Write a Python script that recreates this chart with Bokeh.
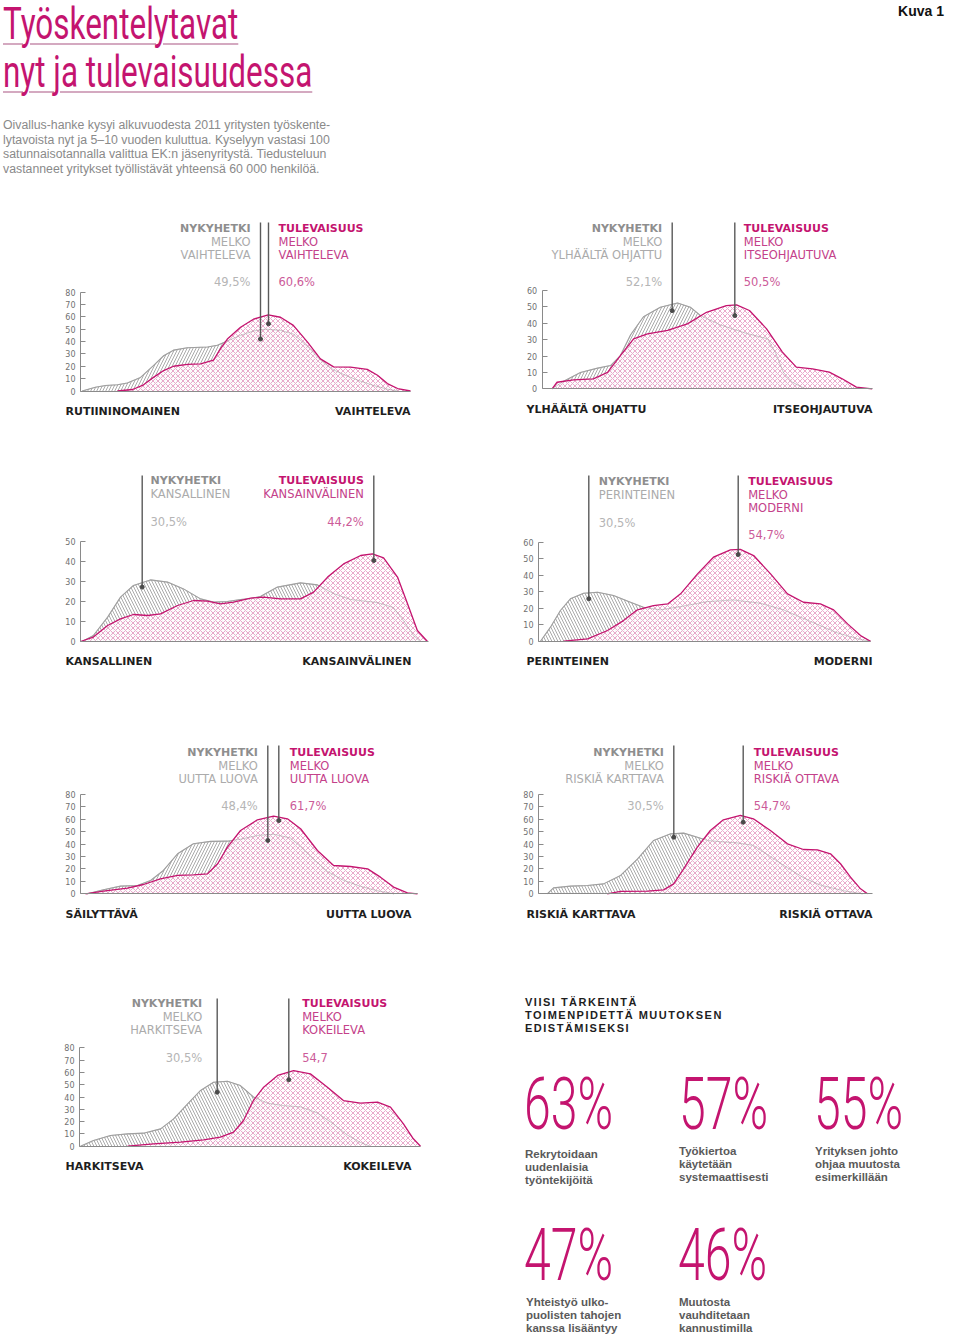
from bokeh.plotting import figure
from bokeh.models import Range1d, LinearAxis, FixedTicker, Label, Div
from bokeh.layouts import column, row
from bokeh.embed import file_html
from bokeh.resources import INLINE

# ------------------------------------------------------------------ data
# x = position on the scale (0 = left end, 100 = right end), y = share (%)
C1_NOW_X = [0.5, 4.5, 7.6, 11.2, 14.2, 18.2, 22.1, 25.2, 28.2, 32.4, 38.5, 41.5, 44.5, 48.5, 52.4, 56.1, 60.6, 64.5, 68.8, 72.7, 76.7, 80.9, 84.8, 88.8, 93.0, 96.1]
C1_NOW_Y = [0, 3, 4.5, 5, 6.5, 11, 20.5, 28.5, 33, 35, 35.5, 37, 40.5, 45, 48.5, 50, 49, 46, 36, 25, 17, 12, 8, 4.5, 1.5, 0]
C1_FUT_X = [11.2, 15.8, 19.1, 22.1, 25.2, 28.2, 32.4, 36.4, 40.3, 42.4, 44.5, 48.5, 52.4, 56.9, 60.6, 64.5, 68.8, 72.7, 76.7, 81.8, 86.9, 90.0, 93.0, 96.1, 100]
C1_FUT_Y = [0, 1.2, 5, 11, 16.5, 20, 21.5, 22, 25, 34, 42, 51.5, 58, 61.6, 59.6, 53, 39.5, 26, 19.5, 19.3, 17.5, 12.7, 6, 2, 0]

C2_NOW_X = [3.0, 6.5, 11.6, 16.8, 20.7, 23.7, 26.8, 30.7, 35.8, 41.0, 44.9, 48.0, 54.0, 61.6, 68.3, 70.7, 73.1, 75.8, 79.8]
C2_NOW_Y = [0, 4.6, 10, 12.6, 14.2, 20.3, 33, 44, 49.8, 52.4, 49.8, 44.7, 39, 34, 30.5, 22, 10, 4, 0]
C2_FUT_X = [3.0, 4.5, 9.5, 15.5, 19.8, 23.7, 27.7, 31.9, 38.0, 44.0, 49.8, 55.8, 58.9, 62.8, 68.0, 72.8, 77.0, 81.9, 87.0, 90.9, 95.2, 100]
C2_FUT_Y = [0, 4, 5.4, 6.1, 10, 20.3, 30.5, 33.5, 35.6, 39.6, 46.7, 50.8, 51.2, 47.8, 36.6, 22.4, 13.2, 12.2, 10.2, 6.1, 1, 0]

C3_NOW_X = [0.5, 3.7, 7.8, 11.5, 15.2, 20.1, 25.0, 29.6, 34.5, 38.2, 42.2, 46.0, 48.9, 51.7, 56.6, 63.2, 68.1, 72.7, 77.6, 85.3, 89.9, 92.8, 95.7, 97.7]
C3_NOW_Y = [0, 3, 12.2, 22.2, 28, 30.8, 29.7, 26.3, 21.3, 19.7, 20, 21, 21.5, 22.5, 27.2, 29.3, 28.3, 24, 21, 19.5, 17, 10.5, 3, 0]
C3_FUT_X = [0, 3.7, 7.8, 11.5, 15.2, 19.3, 23.0, 27.9, 32.5, 36.5, 40.2, 44.0, 48.9, 52.6, 57.5, 63.2, 67.0, 71.0, 75.6, 80.5, 83.9, 87.1, 91.1, 94.0, 96.8, 99.7]
C3_FUT_Y = [0, 2.2, 8, 11.3, 13.5, 13, 13.8, 18, 20.5, 20.2, 18.8, 19.7, 21.7, 22.2, 21.3, 21.3, 24.7, 32.2, 38.8, 43, 43.8, 41.8, 32.2, 18.8, 5.5, 0]

C4_NOW_X = [0.6, 3.6, 6.6, 9.6, 13.6, 17.8, 22.6, 27.7, 31.6, 36.7, 42.8, 50.9, 58.7, 66.9, 73.8, 81.9, 90.1, 97.0, 100]
C4_NOW_Y = [0, 8.5, 18.6, 25.7, 29.1, 29.7, 27.7, 23.6, 20.6, 19, 21, 24, 25, 23, 19, 12, 5, 1, 0]
C4_FUT_X = [7.6, 14.8, 20.8, 25.6, 29.8, 34.6, 38.9, 42.8, 47.9, 52.7, 57.8, 60.8, 64.8, 69.9, 75.0, 79.8, 84.9, 88.9, 93.1, 97.0, 100]
C4_FUT_Y = [0, 1.4, 6.5, 12.5, 19, 21.6, 22.6, 28.7, 40.8, 50.9, 55.4, 55.6, 51.9, 40.8, 28.7, 23.6, 22.6, 19, 10.5, 3.4, 0]

C5_NOW_X = [2.0, 6.8, 11.9, 16.9, 20.8, 24.6, 28.8, 33.5, 38.6, 43.6, 47.5, 52.5, 57.3, 62.3, 65.3, 69.1, 73.3, 78.0, 83.1, 88.1, 93.0]
C5_NOW_Y = [0, 3.2, 6.2, 6.7, 10.7, 18.8, 32.2, 40.3, 42.2, 42.4, 44, 47, 48, 45, 38, 28, 18, 11, 6, 2.5, 0]
C5_FUT_X = [1.5, 6.8, 13.9, 18.7, 23.7, 28.8, 33.5, 37.7, 40.7, 43.6, 47.5, 52.5, 57.3, 61.4, 65.3, 70.3, 75.1, 80.1, 85.2, 89.0, 92.9, 97.0, 100]
C5_FUT_Y = [0, 2.1, 4.6, 7.5, 12.1, 14.8, 15.3, 16.1, 24.2, 37.6, 51, 59.6, 62.6, 60.4, 52.4, 34.9, 22.8, 22, 20.1, 13.4, 5.4, 0.8, 0]

C6_NOW_X = [2.6, 4.5, 9.6, 14.7, 19.5, 24.6, 29.7, 34.5, 39.6, 43.5, 47.6, 50.6, 54.5, 59.6, 64.4, 69.5, 74.6, 79.4, 84.5, 91.4, 97.1]
C6_NOW_Y = [0, 4.8, 6.2, 6.7, 8, 14.8, 28.2, 43, 48.3, 48.9, 45.6, 43, 42, 41, 39, 30, 21, 13, 7, 2.5, 0]
C6_FUT_X = [20.6, 24.6, 32.7, 37.5, 40.5, 43.5, 47.6, 51.5, 55.4, 60.5, 64.4, 69.5, 74.6, 79.4, 83.6, 87.5, 90.5, 93.5, 96.5, 98.6]
C6_FUT_Y = [0, 1.9, 2.1, 3.2, 8, 20.1, 37.6, 51, 59.6, 63.1, 60.4, 51, 40.3, 35.7, 35.4, 32.2, 24.2, 13.4, 4, 0]

C7_NOW_X = [0.3, 4.1, 9.1, 14.1, 18.8, 23.8, 27.6, 31.7, 35.5, 39.3, 43.4, 47.2, 51.0, 55.1, 59.8, 64.8, 69.8, 74.5, 78.6, 82.4, 85.3]
C7_NOW_Y = [0, 4.6, 8.7, 10, 10.6, 14.1, 22.2, 34.4, 45.3, 52, 52.8, 49.3, 40, 35, 33, 32, 27, 18, 9, 3, 0]
C7_FUT_X = [14.1, 21.7, 29.6, 36.4, 41.3, 45.2, 48.1, 51.0, 54.0, 58.1, 62.8, 67.7, 72.7, 77.4, 82.4, 87.4, 91.2, 95.0, 97.9, 100]
C7_FUT_Y = [0, 1.9, 3.3, 5.1, 7.3, 11.4, 20.9, 37.1, 48, 57.5, 61.5, 58.8, 48, 37.1, 35, 35.8, 31.7, 18.2, 6, 0]

# y-axis ticks
TICKS_80 = [0, 10, 20, 30, 40, 50, 60, 70, 80]
TICKS_60 = [0, 10, 20, 30, 40, 50, 60]
TICKS_50 = [0, 10, 20, 30, 40, 50]

# texts
C1_NOW_TXT = ["NYKYHETKI", "MELKO", "VAIHTELEVA"]
C1_FUT_TXT = ["TULEVAISUUS", "MELKO", "VAIHTELEVA"]
C1_PCT = ["49,5%", "60,6%"]
C1_ENDS = ["RUTIININOMAINEN", "VAIHTELEVA"]
C2_NOW_TXT = ["NYKYHETKI", "MELKO", "YLHÄÄLTÄ OHJATTU"]
C2_FUT_TXT = ["TULEVAISUUS", "MELKO", "ITSEOHJAUTUVA"]
C2_PCT = ["52,1%", "50,5%"]
C2_ENDS = ["YLHÄÄLTÄ OHJATTU", "ITSEOHJAUTUVA"]
C3_NOW_TXT = ["NYKYHETKI", "KANSALLINEN"]
C3_FUT_TXT = ["TULEVAISUUS", "KANSAINVÄLINEN"]
C3_PCT = ["30,5%", "44,2%"]
C3_ENDS = ["KANSALLINEN", "KANSAINVÄLINEN"]
C4_NOW_TXT = ["NYKYHETKI", "PERINTEINEN"]
C4_FUT_TXT = ["TULEVAISUUS", "MELKO", "MODERNI"]
C4_PCT = ["30,5%", "54,7%"]
C4_ENDS = ["PERINTEINEN", "MODERNI"]
C5_NOW_TXT = ["NYKYHETKI", "MELKO", "UUTTA LUOVA"]
C5_FUT_TXT = ["TULEVAISUUS", "MELKO", "UUTTA LUOVA"]
C5_PCT = ["48,4%", "61,7%"]
C5_ENDS = ["SÄILYTTÄVÄ", "UUTTA LUOVA"]
C6_NOW_TXT = ["NYKYHETKI", "MELKO", "RISKIÄ KARTTAVA"]
C6_FUT_TXT = ["TULEVAISUUS", "MELKO", "RISKIÄ OTTAVA"]
C6_PCT = ["30,5%", "54,7%"]
C6_ENDS = ["RISKIÄ KARTTAVA", "RISKIÄ OTTAVA"]
C7_NOW_TXT = ["NYKYHETKI", "MELKO", "HARKITSEVA"]
C7_FUT_TXT = ["TULEVAISUUS", "MELKO", "KOKEILEVA"]
C7_PCT = ["30,5%", "54,7"]
C7_ENDS = ["HARKITSEVA", "KOKEILEVA"]

TOP5_VALUES = ["63%", "57%", "55%", "47%", "46%"]
TOP5_TEXTS = [
    ["Rekrytoidaan", "uudenlaisia", "työntekijöitä"],
    ["Työkiertoa", "käytetään", "systemaattisesti"],
    ["Yrityksen johto", "ohjaa muutosta", "esimerkillään"],
    ["Yhteistyö ulko-", "puolisten tahojen", "kanssa lisääntyy"],
    ["Muutosta", "vauhditetaan", "kannustimilla"],
]

# ------------------------------------------------------------------ style
PINK = "#c4146f"
PINK_MID = "#c4418a"
PINK_PCT = "#cc5b99"
GREY_B = "#8e8e8e"
GREY_T = "#ababab"
GREY_P = "#b5b5b5"
GREY_LINE = "#a0a0a0"
AXIS = "#8a8a8a"
FONT = "DejaVu Sans"

W = 472


def make_chart(now_x, now_y, fut_x, fut_y, ticks, now_txt, fut_txt, pct, ends, L):
    fig_left, row_top, H = L["fig_left"], L["row_top"], L["H"]
    a = L["axis"] - fig_left
    b = L["end"] - fig_left
    sx = 100.0 / (b - a)
    z = L["zero"] - row_top
    t = L["top"] - row_top
    top_val = ticks[-1]
    sy = top_val / (z - t)

    def X(px):
        return (px - fig_left - a) * sx

    def Y(py):
        return (z - (py - row_top)) * sy

    p = figure(width=W, height=H, x_range=Range1d(-a * sx, (W - a) * sx),
               y_range=Range1d((z - H) * sy, z * sy),
               x_axis_type=None, y_axis_type=None, toolbar_location=None,
               output_backend="svg", min_border=0)
    p.outline_line_color = None
    p.grid.visible = False

    gx = [now_x[0]] + list(now_x) + [now_x[-1]]
    gy = [0] + list(now_y) + [0]
    p.patch(gx, gy, fill_color=None, line_color=None, hatch_pattern=L["hatch"],
            hatch_color=GREY_LINE, hatch_scale=6, hatch_weight=0.9)
    p.line(now_x, now_y, line_color=GREY_LINE, line_width=1.1, line_join="round")

    fx = [fut_x[0]] + list(fut_x) + [fut_x[-1]]
    fy = [0] + list(fut_y) + [0]
    p.patch(fx, fy, fill_color="white", fill_alpha=0.88, line_color=None,
            hatch_pattern="x", hatch_color=PINK, hatch_alpha=0.6,
            hatch_scale=5, hatch_weight=0.6)
    p.line(now_x, now_y, line_color=GREY_LINE, line_width=1, line_alpha=0.45)
    p.line(fut_x, fut_y, line_color=PINK, line_width=1.3, line_join="round")

    # axes
    yax = LinearAxis(fixed_location=0, bounds=(0, top_val), ticker=FixedTicker(ticks=ticks))
    yax.major_tick_in = 5
    yax.major_tick_out = 0
    yax.minor_tick_line_color = None
    yax.axis_line_color = AXIS
    yax.major_tick_line_color = AXIS
    yax.major_label_text_font = FONT
    yax.major_label_text_font_size = "8px"
    yax.major_label_text_color = "#707070"
    yax.major_label_standoff = 5
    p.add_layout(yax, "left")
    xax = LinearAxis(fixed_location=0, bounds=(0, 100), ticker=FixedTicker(ticks=[]))
    xax.axis_line_color = AXIS
    xax.major_tick_line_color = None
    xax.minor_tick_line_color = None
    xax.major_label_text_font_size = "0px"
    p.add_layout(xax, "below")

    # pointers
    ytop = Y(L["ptop"])
    p.segment(x0=[X(L["gptr"]), X(L["pptr"])], y0=[ytop, ytop],
              x1=[X(L["gptr"]), X(L["pptr"])], y1=[L["gdot"], L["pdot"]],
              line_color="#5a5a5a", line_width=1.4)
    p.scatter([X(L["gptr"]), X(L["pptr"])], [L["gdot"], L["pdot"]], size=4,
              color="#4a4a4a")

    # header texts
    def lab(txt, px, py, align, color, size, bold=False):
        p.add_layout(Label(x=X(px), y=Y(py), text=txt, text_align=align,
                           text_baseline="middle", text_font=FONT,
                           text_font_size=size, text_color=color,
                           text_font_style="bold" if bold else "normal"))

    for i, s in enumerate(now_txt):
        lab(s, L["now_tx"], L["head"] + 13 * i, L["now_al"],
            GREY_B if i == 0 else GREY_T, "11px" if i == 0 else "11.5px", i == 0)
    for i, s in enumerate(fut_txt):
        lab(s, L["fut_tx"], L["head"] + 13 * i, L["fut_al"],
            PINK if i == 0 else PINK_MID, "11px" if i == 0 else "11.5px", i == 0)
    lab(pct[0], L["now_tx"], L["pct"][0], L["now_al"], GREY_P, "11.5px")
    lab(pct[1], L["fut_tx"], L["pct"][1], L["fut_al"], PINK_PCT, "11.5px")
    lab(ends[0], L["xl"], L["xy"], "left", "#1e1e1e", "11px", True)
    lab(ends[1], L["xr"], L["xy"], "right", "#1e1e1e", "11px", True)
    return p


LEFT, RIGHT = 0, 472

L1 = dict(fig_left=LEFT, row_top=213, H=237, axis=80, end=410, zero=390.5, top=291.5, hatch="/",
          now_tx=250, now_al="right", fut_tx=278, fut_al="left", head=228, pct=(281, 281),
          gptr=260, gdot=42, pptr=268, pdot=54.3, ptop=222, xl=65, xr=410, xy=411)
L2 = dict(fig_left=RIGHT, row_top=213, H=237, axis=541.7, end=871.7, zero=388.3, top=290, hatch="/",
          now_tx=661.7, now_al="right", fut_tx=743.3, fut_al="left", head=228, pct=(281, 281),
          gptr=671.7, gdot=47.7, pptr=734.3, pdot=44.7, ptop=222, xl=526, xr=872, xy=409)
L3 = dict(fig_left=LEFT, row_top=450, H=275, axis=80, end=428, zero=641, top=541, hatch="\\",
          now_tx=150, now_al="left", fut_tx=363.3, fut_al="right", head=480, pct=(521, 521),
          gptr=141.7, gdot=27.2, pptr=373.3, pdot=40.5, ptop=475, xl=65, xr=411, xy=661)
L4 = dict(fig_left=RIGHT, row_top=450, H=275, axis=538, end=870, zero=640.7, top=541.7, hatch="\\",
          now_tx=598.3, now_al="left", fut_tx=747.7, fut_al="left", head=481, pct=(522, 534),
          gptr=588.3, gdot=25.7, pptr=737.7, pdot=52.5, ptop=475, xl=526, xr=872, xy=661)
L5 = dict(fig_left=LEFT, row_top=725, H=250, axis=80, end=417, zero=893.3, top=794, hatch="/",
          now_tx=257.3, now_al="right", fut_tx=289.3, fut_al="left", head=752, pct=(805, 805),
          gptr=267.3, gdot=43, pptr=278.3, pdot=59, ptop=745, xl=65, xr=411, xy=914)
L6 = dict(fig_left=RIGHT, row_top=725, H=250, axis=538, end=871.7, zero=893.3, top=794, hatch="\\",
          now_tx=663.3, now_al="right", fut_tx=753.3, fut_al="left", head=752, pct=(805, 805),
          gptr=673.3, gdot=45.6, pptr=742.7, pdot=57.7, ptop=745, xl=526, xr=872, xy=914)
L7 = dict(fig_left=LEFT, row_top=975, H=225, axis=79, end=420, zero=1145.7, top=1047.3, hatch="\\",
          now_tx=201.7, now_al="right", fut_tx=301.7, fut_al="left", head=1003, pct=(1057, 1057),
          gptr=216.7, gdot=43.9, pptr=288.3, pdot=54, ptop=998, xl=65, xr=411, xy=1166)

f1 = make_chart(C1_NOW_X, C1_NOW_Y, C1_FUT_X, C1_FUT_Y, TICKS_80, C1_NOW_TXT, C1_FUT_TXT, C1_PCT, C1_ENDS, L1)
f2 = make_chart(C2_NOW_X, C2_NOW_Y, C2_FUT_X, C2_FUT_Y, TICKS_60, C2_NOW_TXT, C2_FUT_TXT, C2_PCT, C2_ENDS, L2)
f3 = make_chart(C3_NOW_X, C3_NOW_Y, C3_FUT_X, C3_FUT_Y, TICKS_50, C3_NOW_TXT, C3_FUT_TXT, C3_PCT, C3_ENDS, L3)
f4 = make_chart(C4_NOW_X, C4_NOW_Y, C4_FUT_X, C4_FUT_Y, TICKS_60, C4_NOW_TXT, C4_FUT_TXT, C4_PCT, C4_ENDS, L4)
f5 = make_chart(C5_NOW_X, C5_NOW_Y, C5_FUT_X, C5_FUT_Y, TICKS_80, C5_NOW_TXT, C5_FUT_TXT, C5_PCT, C5_ENDS, L5)
f6 = make_chart(C6_NOW_X, C6_NOW_Y, C6_FUT_X, C6_FUT_Y, TICKS_80, C6_NOW_TXT, C6_FUT_TXT, C6_PCT, C6_ENDS, L6)
f7 = make_chart(C7_NOW_X, C7_NOW_Y, C7_FUT_X, C7_FUT_Y, TICKS_80, C7_NOW_TXT, C7_FUT_TXT, C7_PCT, C7_ENDS, L7)

# ------------------------------------------------------------------ text blocks
def span(txt, left, top, style):
    return (f'<div style="position:absolute;left:{left}px;top:{top}px;'
            f'white-space:nowrap;{style}">{txt}</div>')


TITLE_STYLE = ("font-family:Roboto,'Liberation Sans',sans-serif;font-size:44px;line-height:48px;"
               f"color:{PINK};transform:scaleX(0.715);transform-origin:0 0;"
               "text-decoration:underline;text-decoration-color:#d4a9c0;"
               "text-decoration-thickness:1.5px;text-underline-offset:4px;")
PARA_STYLE = ("font-family:'Liberation Sans',Arial,sans-serif;font-size:12.3px;line-height:14.5px;"
              "color:#8a8a8a;")
BIG_STYLE = ("font-family:Roboto,'Liberation Sans',sans-serif;font-weight:300;font-size:73px;"
             f"line-height:73px;color:{PINK};transform:scaleX(0.66);transform-origin:0 0;")
CAP_STYLE = ("font-family:'Liberation Sans',Arial,sans-serif;font-weight:bold;font-size:11.5px;"
             "line-height:13px;color:#5a5a5a;")
HEAD_STYLE = ("font-family:'Liberation Sans',Arial,sans-serif;font-weight:bold;font-size:11px;"
              "line-height:13px;letter-spacing:1.5px;color:#1e1e1e;")

header_html = ('<div style="position:relative;width:944px;height:213px;">'
               + span("Työskentelytavat<br>nyt ja tulevaisuudessa", 3, 0, TITLE_STYLE)
               + span("Oivallus-hanke kysyi alkuvuodesta 2011 yritysten työskente-<br>"
                      "lytavoista nyt ja 5–10 vuoden kuluttua. Kyselyyn vastasi 100<br>"
                      "satunnaisotannalla valittua EK:n jäsenyritystä. Tiedusteluun<br>"
                      "vastanneet yritykset työllistävät yhteensä 60 000 henkilöä.",
                      3, 118, PARA_STYLE)
               + '<div style="position:absolute;right:0px;top:3px;font-family:\'Liberation Sans\',Arial,'
                 'sans-serif;font-weight:bold;font-size:14px;line-height:16px;color:#111;">Kuva 1</div>'
               + '</div>')
header = Div(text=header_html, width=944, height=213, margin=(0, 0, 0, 0))

r4_html = ('<div style="position:relative;width:472px;height:225px;">'
           + span("VIISI TÄRKEINTÄ<br>TOIMENPIDETTÄ MUUTOKSEN<br>EDISTÄMISEKSI", 53, 21, HEAD_STYLE)
           + span(TOP5_VALUES[0], 52, 93, BIG_STYLE)
           + span(TOP5_VALUES[1], 207, 93, BIG_STYLE)
           + span(TOP5_VALUES[2], 342, 93, BIG_STYLE)
           + span("<br>".join(TOP5_TEXTS[0]), 53, 173, CAP_STYLE)
           + span("<br>".join(TOP5_TEXTS[1]), 207, 170, CAP_STYLE)
           + span("<br>".join(TOP5_TEXTS[2]), 343, 170, CAP_STYLE)
           + '</div>')
right4 = Div(text=r4_html, width=472, height=225, margin=(0, 0, 0, 0))

r5_html = ('<div style="position:relative;width:944px;height:133px;">'
           + span(TOP5_VALUES[3], 524, 19, BIG_STYLE)
           + span(TOP5_VALUES[4], 678, 19, BIG_STYLE)
           + span("<br>".join(TOP5_TEXTS[3]), 526, 96, CAP_STYLE)
           + span("<br>".join(TOP5_TEXTS[4]), 679, 96, CAP_STYLE)
           + '</div>')
bottom = Div(text=r5_html, width=944, height=133, margin=(0, 0, 0, 0))

layout = column(header, row(f1, f2), row(f3, f4), row(f5, f6), row(f7, right4), bottom)

open("out.html", "w").write(file_html(layout, INLINE))
